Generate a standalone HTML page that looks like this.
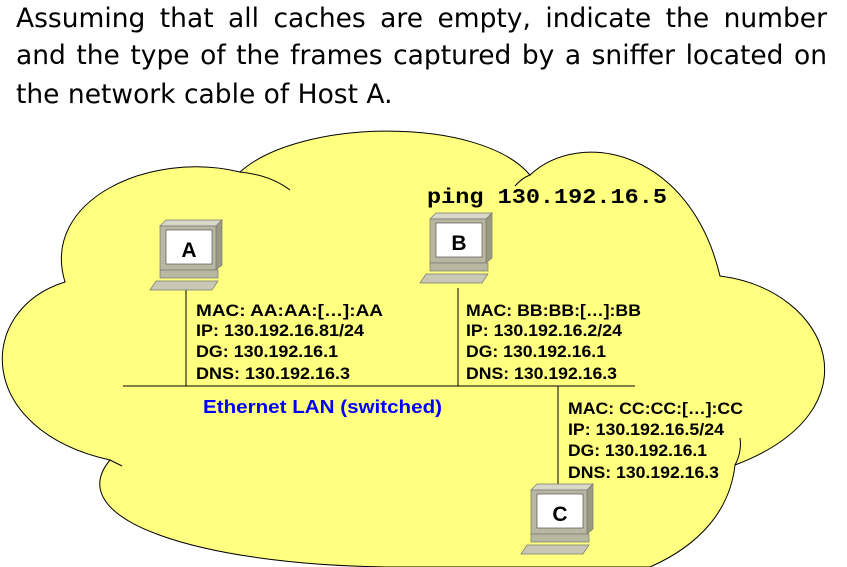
<!DOCTYPE html>
<html><head><style>
body{margin:0;width:847px;height:567px;overflow:hidden;background:#fff;position:relative;font-family:"Liberation Sans",sans-serif}
.q{position:absolute;left:16px;width:811px;font-family:"DejaVu Sans",sans-serif;font-size:26.5px;line-height:30px;color:#000;white-space:nowrap}
.j{text-align:justify;text-align-last:justify}
</style></head><body>
<div class="q j" style="top:4px">Assuming that all caches are empty, indicate the number</div>
<div class="q j" style="top:41px">and the type of the frames captured by a sniffer located on</div>
<div class="q" style="top:80px">the network cable of Host A.</div>
<svg width="847" height="567" style="position:absolute;left:0;top:0">
<path d="M 65,282 C 40,200 150,150 240,172 C 300,118 480,116 530,175 C 580,128 690,150 720,276 C 830,290 880,410 735,465 C 730,510 700,545 650,567 L 390,567 C 200,565 60,520 110,460 C -25,430 -25,310 65,282 Z" fill="#ffff80" stroke="#000" stroke-width="1"/>
<path d="M 240,172 Q 270,175 290,190" fill="none" stroke="#000"/>
<path d="M 530,175 Q 522,178 515,186" fill="none" stroke="#000"/>
<path d="M 735,465 Q 742,452 740,438" fill="none" stroke="#000"/>
<path d="M 110,460 L 122,466" fill="none" stroke="#000"/>
<g stroke="#000" stroke-width="1">
<line x1="123" y1="386" x2="635" y2="386"/>
<line x1="186" y1="290" x2="186" y2="386"/>
<line x1="458" y1="288" x2="458" y2="386"/>
<line x1="558" y1="386" x2="558" y2="484"/>
</g>
<g>
<polygon points="160,226 166,220 222,220 216,226" fill="#d8d8c8" stroke="#777" stroke-width="0.7"/>
<polygon points="216,226 222,220 222,265 216,270" fill="#9a9a80" stroke="#777" stroke-width="0.7"/>
<rect x="160" y="226" width="56" height="44" fill="#b8b8a0" stroke="#777" stroke-width="0.7"/>
<rect x="166" y="230" width="46" height="34" fill="#fff" stroke="#555" stroke-width="0.7"/>
<rect x="160" y="270" width="58" height="8" fill="#b8b8a0" stroke="#777" stroke-width="0.7"/>
<polygon points="150,290 156,281 218,281 212,290" fill="#c8c8b4" stroke="#777" stroke-width="0.7"/>
<text x="189" y="257" font-size="21" font-weight="bold" text-anchor="middle">A</text>
</g>
<g transform="translate(270,-7)">
<polygon points="160,226 166,220 222,220 216,226" fill="#d8d8c8" stroke="#777" stroke-width="0.7"/>
<polygon points="216,226 222,220 222,265 216,270" fill="#9a9a80" stroke="#777" stroke-width="0.7"/>
<rect x="160" y="226" width="56" height="44" fill="#b8b8a0" stroke="#777" stroke-width="0.7"/>
<rect x="166" y="230" width="46" height="34" fill="#fff" stroke="#555" stroke-width="0.7"/>
<rect x="160" y="270" width="58" height="8" fill="#b8b8a0" stroke="#777" stroke-width="0.7"/>
<polygon points="150,290 156,281 218,281 212,290" fill="#c8c8b4" stroke="#777" stroke-width="0.7"/>
<text x="189" y="257" font-size="21" font-weight="bold" text-anchor="middle">B</text>
</g>
<g transform="translate(371,264)">
<polygon points="160,226 166,220 222,220 216,226" fill="#d8d8c8" stroke="#777" stroke-width="0.7"/>
<polygon points="216,226 222,220 222,265 216,270" fill="#9a9a80" stroke="#777" stroke-width="0.7"/>
<rect x="160" y="226" width="56" height="44" fill="#b8b8a0" stroke="#777" stroke-width="0.7"/>
<rect x="166" y="230" width="46" height="34" fill="#fff" stroke="#555" stroke-width="0.7"/>
<rect x="160" y="270" width="58" height="8" fill="#b8b8a0" stroke="#777" stroke-width="0.7"/>
<polygon points="150,290 156,281 218,281 212,290" fill="#c8c8b4" stroke="#777" stroke-width="0.7"/>
<text x="189" y="257" font-size="21" font-weight="bold" text-anchor="middle">C</text>
</g>
<g font-size="16.5" font-weight="bold" fill="#000" style="font-family:'Liberation Sans',Arial,sans-serif">
<text x="196" y="316" textLength="187" lengthAdjust="spacingAndGlyphs">MAC: AA:AA:[…]:AA</text>
<text x="196" y="336" textLength="168" lengthAdjust="spacingAndGlyphs">IP: 130.192.16.81/24</text>
<text x="196" y="357" textLength="142" lengthAdjust="spacingAndGlyphs">DG: 130.192.16.1</text>
<text x="196" y="379" textLength="154" lengthAdjust="spacingAndGlyphs">DNS: 130.192.16.3</text>
<text x="466" y="316" textLength="175" lengthAdjust="spacingAndGlyphs">MAC: BB:BB:[…]:BB</text>
<text x="466" y="336" textLength="156" lengthAdjust="spacingAndGlyphs">IP: 130.192.16.2/24</text>
<text x="466" y="357" textLength="140" lengthAdjust="spacingAndGlyphs">DG: 130.192.16.1</text>
<text x="466" y="379" textLength="151" lengthAdjust="spacingAndGlyphs">DNS: 130.192.16.3</text>
<text x="568" y="414" textLength="175" lengthAdjust="spacingAndGlyphs">MAC: CC:CC:[…]:CC</text>
<text x="568" y="435" textLength="156" lengthAdjust="spacingAndGlyphs">IP: 130.192.16.5/24</text>
<text x="568" y="456" textLength="139" lengthAdjust="spacingAndGlyphs">DG: 130.192.16.1</text>
<text x="568" y="478" textLength="151" lengthAdjust="spacingAndGlyphs">DNS: 130.192.16.3</text>
</g>
<text x="203" y="413" font-size="18" font-weight="bold" fill="#0000ff" style="font-family:'Liberation Sans',sans-serif" textLength="239" lengthAdjust="spacingAndGlyphs">Ethernet LAN (switched)</text>
<text x="427" y="203" font-size="21" font-weight="bold" style="font-family:'Liberation Mono',monospace" textLength="240" lengthAdjust="spacingAndGlyphs">ping 130.192.16.5</text>
</svg>
</body></html>
